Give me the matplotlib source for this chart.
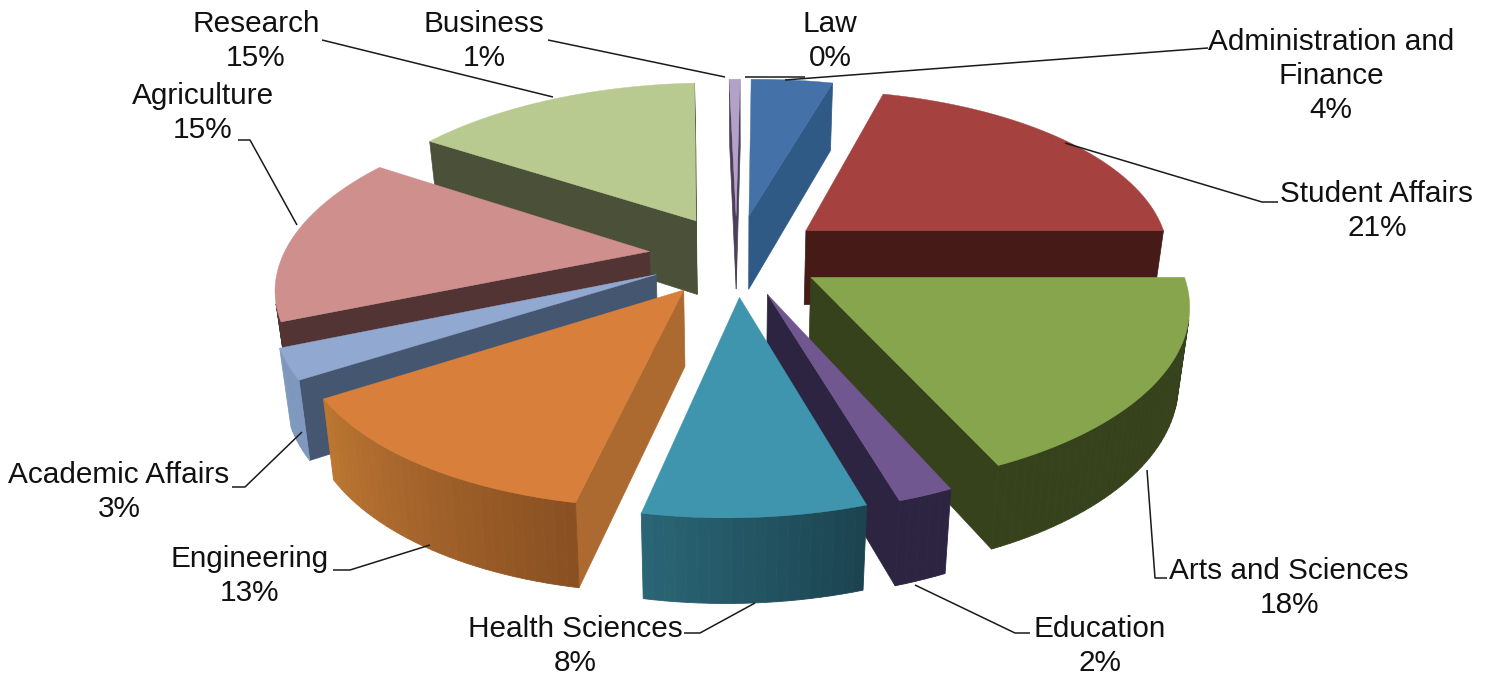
import numpy as np
import matplotlib
matplotlib.use("Agg")
import matplotlib.pyplot as plt
from matplotlib.colors import to_rgb

labels = ["Law", "Administration and\nFinance", "Student Affairs", "Arts and Sciences", "Education",
          "Health Sciences", "Engineering", "Academic Affairs", "Agriculture", "Research", "Business"]
values = [0, 4.28, 21, 18, 2, 8, 12.8, 2.81, 15.49, 15.06, 0.56]

top_colors = ["#4A7EBB", "#4472A8", "#A5423F", "#87A54C", "#71578F", "#3F95AE", "#D87F3B", "#91A9D0", "#CE8F8D", "#B9CA90", "#B3A2C7"]
face_colors = ["#2F5A85", "#2F5A85", "#451A17", "#36421C", "#2C2440", "#2A6A80", "#AD6A30", "#455670", "#523434", "#4B5138", "#4A3F5C"]
rim_start = ["#2F5A85", "#2F5A85", "#451A17", "#36421C", "#2C2440", "#1C4450", "#8A5022", "#7F98BE", "#523434", "#4B5138", "#4A3F5C"]
rim_end = ["#2F5A85", "#2F5A85", "#451A17", "#36421C", "#2C2440", "#2A6575", "#BC7632", "#7F98BE", "#523434", "#4B5138", "#4A3F5C"]

label_xy = [(830, 41), (1331, 76), (1377, 211), (1289, 588), (1100, 646),
            (575, 646), (250, 576), (119, 492), (203, 113), (256, 41), (484, 41)]
leaders = [[(805, 77), (745, 77)],
           [(1208, 48), (785, 80)],
           [(1278, 202), (1262, 202), (1065, 143)],
           [(1167, 578), (1155, 578), (1147, 470)],
           [(1030, 633), (1015, 633), (915, 585)],
           [(684, 633), (700, 633), (755, 603)],
           [(333, 570), (350, 570), (430, 545)],
           [(232, 487), (245, 487), (302, 432)],
           [(238, 140), (250, 140), (297, 225)],
           [(322, 40), (553, 97)],
           [(548, 40), (725, 77)]]

CX, CY, RX, RY, P, EXPL, H, SHRINK, SHEAR = 736.5, 255, 366, 170, 0.16, 0.24, 75, 0.975, 0.065
START_DEG = -1


def project(X, Y, bottom=False):
    s = 1 / (1 - P * Y)
    y = CY + RY * Y * s
    lean = -SHEAR * (y - CY)
    if bottom:
        return CX + lean + RX * X * s * SHRINK, y + H * s ** 0.6
    return CX + lean + RX * X * s, y


def mix(a, b, t):
    a, b = np.array(to_rgb(a)), np.array(to_rgb(b))
    return tuple(a + (b - a) * t)


def area(q):
    q = np.array(q)
    x, y = q[:, 0], q[:, 1]
    return 0.5 * np.sum(x * np.roll(y, -1) - np.roll(x, -1) * y)


fig = plt.figure(figsize=(14.91, 6.75), dpi=100)
ax = fig.add_axes([0, 0, 1, 1])
ax.set_xlim(0, 1491)
ax.set_ylim(675, 0)
ax.axis("off")

fractions = np.array(values) / sum(values)
edges = np.concatenate([[0], np.cumsum(fractions)]) * 2 * np.pi + np.radians(START_DEG)
mids = (edges[:-1] + edges[1:]) / 2
order = np.argsort(-np.cos(mids))

for i in order:
    if values[i] == 0:
        continue
    a0, a1 = edges[i], edges[i + 1]
    ox, oy = EXPL * np.sin(mids[i]), -EXPL * np.cos(mids[i])
    angs = np.linspace(a0, a1, max(3, int(np.degrees(a1 - a0) / 1.5) + 2))
    px = ox + np.sin(angs)
    py = oy - np.cos(angs)
    top = [project(ox, oy)] + [project(a, b) for a, b in zip(px, py)]
    bot = [project(ox, oy, True)] + [project(a, b, True) for a, b in zip(px, py)]
    tp = np.array(top)
    # radial faces, drawn only when they turn towards the viewer
    for q in ([top[0], top[1], bot[1], bot[0]], [top[-1], top[0], bot[0], bot[-1]]):
        if area(q) < 0:
            ax.fill(*zip(*q), color=face_colors[i], lw=0.5, zorder=1)
    # curved rim
    for k in range(1, len(top) - 1):
        q = [top[k], top[k + 1], bot[k + 1], bot[k]]
        if area(q) < 0:
            t = (k - 1) / max(1, len(top) - 3)
            ax.fill(*zip(*q), color=mix(rim_start[i], rim_end[i], t), lw=0.6, zorder=1)
    ax.fill(tp[:, 0], tp[:, 1], color=top_colors[i], lw=0.3, zorder=1)

for seg in leaders:
    xs, ys = zip(*seg)
    ax.plot(xs, ys, color="#1a1a1a", lw=1.1, zorder=3, solid_capstyle="butt")

for name, v, (x, y) in zip(labels, values, label_xy):
    ax.text(x, y, f"{name}\n{round(v)}%", ha="center", va="center", family="Liberation Sans",
            fontsize=21.4, color="#111111", linespacing=1.25, zorder=4)

fig.savefig("out.png", dpi=100)
